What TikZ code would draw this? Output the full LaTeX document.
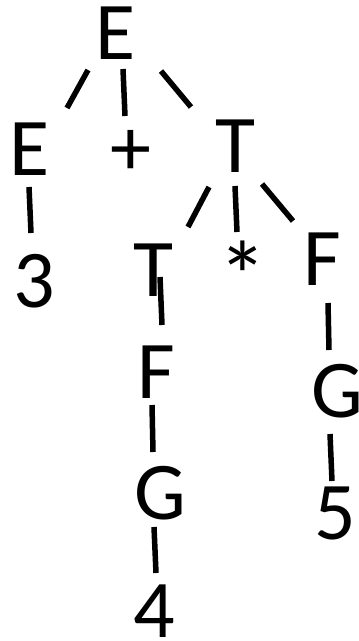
\documentclass[tikz,border=0pt]{standalone}
\usepackage{fontspec}
\setmainfont{Carlito}
\usepackage{tikz}

\tikzset{
  sym/.style={inner sep=0pt, anchor=base, font=\fontsize{82}{98}\selectfont},
  branch/.style={line width=5.5pt, black}
}

\begin{document}
\begin{tikzpicture}[x=1pt,y=-1pt]
  \useasboundingbox (0,0) rectangle (359,641);
  %Symbols
  \node[sym] (root) at (116,59) {E};
  \node[sym] (e1) at (30,175) {E};
  \node[sym] (plus) at (131,175) {+};
  \node[sym] (t1) at (235,172) {T};
  \node[sym] (n3) at (34,307) {3};
  \node[sym] (t2) at (153,296) {T};
  \node[sym, font=\fontsize{98}{110}\selectfont] (star) at (243,310) {*};
  \node[sym] (f1) at (322,285) {F};
  \node[sym] (f2) at (156,398) {F};
  \node[sym] (g1) at (337,417) {G};
  \node[sym] (g2) at (160,519) {G};
  \node[sym] (n5) at (335,539) {5};
  \node[sym] (n4) at (154,637) {4};
  %Branches
  \draw[branch] ([shift={(-28,11)}]root.base) -- ([shift={(37,-67)}]e1.base);
  \draw[branch] ([shift={(7,10)}]root.base) -- ([shift={(-6,-59)}]plus.base);
  \draw[branch] ([shift={(45,12)}]root.base) -- ([shift={(-44,-65)}]t1.base);
  \draw[branch] ([shift={(-1,12)}]e1.base) -- ([shift={(-3,-74)}]n3.base);
  \draw[branch] ([shift={(-26,15)}]t1.base) -- ([shift={(35,-69)}]t2.base);
  \draw[branch] ([shift={(0,14)}]t1.base) -- ([shift={(-6,-78)}]star.base);
  \draw[branch] ([shift={(27,12)}]t1.base) -- ([shift={(-29,-64)}]f1.base);
  \draw[branch] ([shift={(7,-19)}]t2.base) -- ([shift={(6,-73)}]f2.base);
  \draw[branch] ([shift={(6,18)}]f1.base) -- ([shift={(-8,-67)}]g1.base);
  \draw[branch] ([shift={(-4,7)}]f2.base) -- ([shift={(-7,-67)}]g2.base);
  \draw[branch] ([shift={(-7,17)}]g1.base) -- ([shift={(-3,-58)}]n5.base);
  \draw[branch] ([shift={(-6,8)}]g2.base) -- ([shift={(2,-64)}]n4.base);
\end{tikzpicture}
\end{document}
